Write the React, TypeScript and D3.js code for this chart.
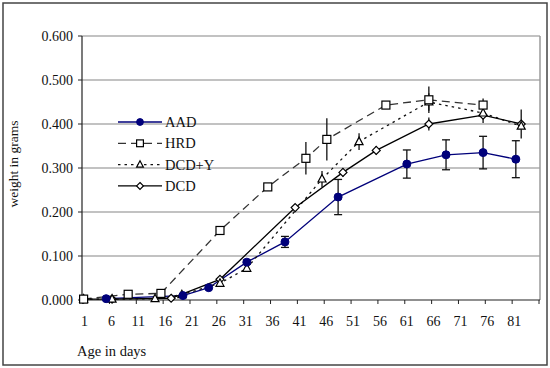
import React from "react";
import * as d3 from "d3";

// readings (days, weight in grams, +/- error)
const aadDays = [5.2, 19.5, 24.3, 31.4, 38.5, 48.4, 61.2, 68.5, 75.4, 81.5];
const aadWeight = [0.003, 0.01, 0.028, 0.086, 0.132, 0.234, 0.309, 0.33, 0.335, 0.32];
const aadErr = [0, 0, 0, 0.005, 0.0125, 0.04, 0.032, 0.034, 0.037, 0.042];

const hrdDays = [1, 9.3, 15.4, 26.4, 35.3, 42.4, 46.3, 57.3, 65.3, 75.4];
const hrdWeight = [0.002, 0.013, 0.015, 0.158, 0.257, 0.322, 0.365, 0.443, 0.455, 0.443];
const hrdErr = [0, 0, 0, 0.008, 0.008, 0.037, 0.048, 0, 0.03, 0.015];

const dcdyDays = [1, 6.3, 14.3, 19.3, 26.4, 31.4, 45.4, 52.3, 65.3, 75.4, 82.5];
const dcdyWeight = [0.002, 0.002, 0.003, 0.012, 0.038, 0.072, 0.275, 0.36, 0.45, 0.425, 0.395];
const dcdyErr = [0, 0, 0, 0, 0, 0, 0.018, 0.019, 0.02, 0, 0];

const dcdDays = [1, 6.3, 17.3, 26.4, 40.4, 49.3, 55.5, 65.3, 75.4, 82.5];
const dcdWeight = [0.002, 0.002, 0.004, 0.047, 0.21, 0.29, 0.34, 0.4, 0.42, 0.4];
const dcdErr = [0, 0, 0, 0.005, 0, 0.01, 0.01, 0.015, 0.018, 0.033];

const xTicks = [1, 6, 11, 16, 21, 26, 31, 36, 41, 46, 51, 56, 61, 66, 71, 76, 81, 86];
const yTicks = [0, 0.1, 0.2, 0.3, 0.4, 0.5, 0.6];

const FONT = "Liberation Serif, Times New Roman, DejaVu Serif, serif";
const NAVY = "#00007a";

type Pt = { d: number; w: number; e: number };
const zip = (days: number[], w: number[], e: number[]): Pt[] =>
  days.map((d, i) => ({ d, w: w[i], e: e[i] }));

const series = [
  { name: "AAD", pts: zip(aadDays, aadWeight, aadErr), color: NAVY, dash: "", marker: "circle", cap: true },
  { name: "HRD", pts: zip(hrdDays, hrdWeight, hrdErr), color: "#333", dash: "8,5", marker: "square", cap: false },
  { name: "DCD+Y", pts: zip(dcdyDays, dcdyWeight, dcdyErr), color: "#111", dash: "2.5,4", marker: "triangle", cap: false },
  { name: "DCD", pts: zip(dcdDays, dcdWeight, dcdErr), color: "#000", dash: "", marker: "diamond", cap: false },
];

const Marker = ({ kind, x, y, s = 1 }: { kind: string; x: number; y: number; s?: number }) => {
  if (kind === "circle") return <circle cx={x} cy={y} r={4 * s} fill={NAVY} stroke={NAVY} />;
  if (kind === "square")
    return (
      <rect x={x - 4 * s} y={y - 4 * s} width={8 * s} height={8 * s} fill="#fff" stroke="#000" strokeWidth={1.2} />
    );
  if (kind === "triangle")
    return (
      <path
        d={`M${x},${y - 4.5 * s}L${x + 4 * s},${y + 3 * s}L${x - 4 * s},${y + 3 * s}Z`}
        fill="#fff"
        stroke="#000"
        strokeWidth={1.2}
      />
    );
  return (
    <path
      d={`M${x},${y - 4 * s}L${x + 4 * s},${y}L${x},${y + 4 * s}L${x - 4 * s},${y}Z`}
      fill="#fff"
      stroke="#000"
      strokeWidth={1.2}
    />
  );
};

export default function App() {
  const left = 82, right = 540, top = 36, bottom = 300;
  const x = d3.scaleLinear().domain([0.7, 86]).range([left, right]);
  const y = d3.scaleLinear().domain([0, 0.6]).range([bottom, top]);
  const line = d3
    .line<Pt>()
    .x(p => x(p.d))
    .y(p => y(p.w));

  return (
    <div style={{ position: "absolute", left: 0, top: 0 }}>
      <svg width={550} height={368} style={{ display: "block" }} fontFamily={FONT}>
        <rect x={0} y={0} width={550} height={368} fill="#fff" />
        <rect x={3} y={3} width={544} height={362} fill="none" stroke="#444" strokeWidth={1.5} />

        {/* grid */}
        {yTicks.slice(1).map(t => (
          <line key={t} x1={left} x2={right} y1={y(t)} y2={y(t)} stroke="#858585" strokeWidth={1.2} />
        ))}
        <line x1={right} x2={right} y1={top} y2={bottom} stroke="#9a9a9a" strokeWidth={1.5} />

        {/* y axis */}
        <line x1={left} x2={left} y1={top} y2={bottom} stroke="#222" strokeWidth={1.2} />
        {yTicks.map(t => (
          <g key={t}>
            <line x1={left - 4} x2={left} y1={y(t)} y2={y(t)} stroke="#222" />
            <text x={left - 9} y={y(t)} dy="0.35em" textAnchor="end" fontSize={14} fill="#111" fontFamily={FONT}>
              {d3.format(".3f")(t)}
            </text>
          </g>
        ))}
        <text
          transform="translate(18,164) rotate(-90)"
          textAnchor="middle"
          fontSize={13.5}
          fill="#111"
          fontFamily={FONT}
        >
          weight in grams
        </text>

        {/* x axis */}
        <line x1={left} x2={right} y1={bottom} y2={bottom} stroke="#222" strokeWidth={1.2} />
        {xTicks.map(t => (
          <g key={t}>
            <line x1={x(t) - 1} x2={x(t) - 1} y1={bottom} y2={bottom + 4} stroke="#222" />
            {t < 86 && (
              <text x={x(t) + 1} y={326} textAnchor="middle" fontSize={14} fill="#111" fontFamily={FONT}>
                {t}
              </text>
            )}
          </g>
        ))}
        <text x={77} y={356} fontSize={14.5} fill="#111" fontFamily={FONT}>
          Age in days
        </text>

        {/* lines */}
        {series.map(s => (
          <path
            key={s.name}
            d={line(s.pts) || ""}
            fill="none"
            stroke={s.color}
            strokeWidth={1.3}
            strokeDasharray={s.dash}
          />
        ))}

        {/* error bars */}
        {series.map(s =>
          s.pts
            .filter(p => p.e > 0)
            .map((p, i) => (
              <g key={s.name + i} stroke="#111" strokeWidth={1.3}>
                <line x1={x(p.d)} x2={x(p.d)} y1={y(p.w - p.e)} y2={y(p.w + p.e)} />
                {s.cap && (
                  <>
                    <line x1={x(p.d) - 4} x2={x(p.d) + 4} y1={y(p.w - p.e)} y2={y(p.w - p.e)} />
                    <line x1={x(p.d) - 4} x2={x(p.d) + 4} y1={y(p.w + p.e)} y2={y(p.w + p.e)} />
                  </>
                )}
              </g>
            ))
        )}

        {/* markers */}
        {series
          .slice()
          .reverse()
          .map(s =>
            s.pts.map((p, i) => <Marker key={s.name + "m" + i} kind={s.marker} x={x(p.d)} y={y(p.w)} />)
          )}

        {/* legend */}
        {series.map((s, i) => {
          const ly = 122 + i * 21.3;
          return (
            <g key={"lg" + s.name}>
              <line x1={118} x2={162} y1={ly} y2={ly} stroke={s.color} strokeWidth={1.3} strokeDasharray={s.dash} />
              <Marker kind={s.marker} x={140} y={ly} s={0.85} />
              <text x={165} y={ly} dy="0.35em" fontSize={14.5} fill="#111" fontFamily={FONT}>
                {s.name}
              </text>
            </g>
          );
        })}
      </svg>
    </div>
  );
}
